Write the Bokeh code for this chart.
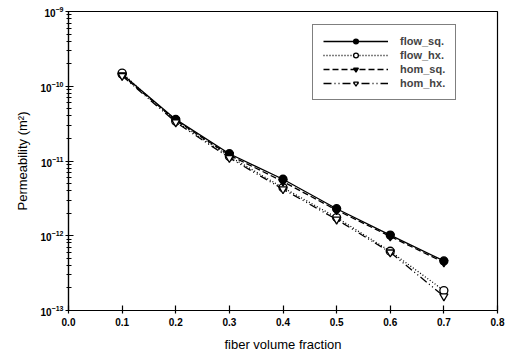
from bokeh.plotting import figure
from bokeh.models import (Range1d, FixedTicker, Legend, LegendItem, NumeralTickFormatter)
from bokeh.embed import file_html
from bokeh.resources import INLINE

fraction = [0.1, 0.2, 0.3, 0.4, 0.5, 0.6, 0.7]
flow_sq = [1.45e-10, 3.6e-11, 1.25e-11, 5.7e-12, 2.3e-12, 1.02e-12, 4.6e-13]
flow_hx = [1.5e-10, 3.4e-11, 1.15e-11, 4.4e-12, 1.75e-12, 6.2e-13, 1.85e-13]
hom_sq = [1.4e-10, 3.5e-11, 1.2e-11, 5.3e-12, 2.2e-12, 0.98e-12, 4.4e-13]
hom_hx = [1.38e-10, 3.3e-11, 1.1e-11, 4.2e-12, 1.65e-12, 6.0e-13, 1.55e-13]
x_ticks = [0.0, 0.1, 0.2, 0.3, 0.4, 0.5, 0.6, 0.7, 0.8]
y_ticks = [1e-13, 1e-12, 1e-11, 1e-10, 1e-9]

FONT = "Liberation Sans"

p = figure(width=514, height=359, y_axis_type="log", output_backend="svg",
           toolbar_location=None, x_range=Range1d(0.0, 0.8),
           y_range=Range1d(1e-13, 1e-9),
           min_border_left=68, min_border_right=17, min_border_top=11,
           min_border_bottom=49)
p.background_fill_color = None
p.border_fill_color = "white"
p.outline_line_color = "black"
p.outline_line_width = 1.2
p.xgrid.visible = False
p.ygrid.visible = False

minor = []
for d in y_ticks[:-1]:
    for k in range(2, 10):
        minor.append(d * k)

p.xaxis.ticker = FixedTicker(ticks=x_ticks)
p.xaxis.formatter = NumeralTickFormatter(format="0.0")
p.yaxis.ticker = FixedTicker(ticks=y_ticks, minor_ticks=minor)

for ax in (p.xaxis[0], p.yaxis[0]):
    ax.axis_line_color = "black"
    ax.axis_line_width = 1.2
    ax.major_tick_in = 5
    ax.major_tick_out = 3
    ax.minor_tick_in = 3
    ax.minor_tick_out = 2
    ax.major_tick_line_color = "black"
    ax.minor_tick_line_color = "black"
    ax.major_tick_line_width = 1.2
    ax.minor_tick_line_width = 1
    ax.major_label_text_font = FONT
    ax.major_label_text_font_size = "10px"
    ax.major_label_text_font_style = "bold"
    ax.major_label_text_color = "black"
    ax.axis_label_text_font = FONT
    ax.axis_label_text_font_size = "13px"
    ax.axis_label_text_font_style = "normal"
    ax.axis_label_text_color = "black"
p.xaxis.minor_tick_line_color = None
p.xaxis.axis_label = "fiber volume fraction"
p.yaxis.axis_label = "Permeability (m²)"
p.xaxis.major_label_standoff = 4
p.xaxis.axis_label_standoff = 8
p.yaxis.major_label_standoff = 2
p.yaxis.axis_label_standoff = 8

series = [
    ("flow_sq.", flow_sq, "solid", "circle", "black"),
    ("flow_hx.", flow_hx, "1 2", "circle", "white"),
    ("hom_sq.", hom_sq, "6 3", "inverted_triangle", "black"),
    ("hom_hx.", hom_hx, "8 3 1 3 1 3", "inverted_triangle", "white"),
]
items = []
for label, vals, dash, marker, fill in series:
    l = p.line(fraction, vals, line_color="black", line_width=1.3, line_dash=dash)
    s = p.scatter(fraction, vals, marker=marker, size=8, line_color="black",
                  line_width=1.3, fill_color=fill)
    items.append(LegendItem(label=label, renderers=[l, s]))

legend = Legend(items=items, location=(244, 210), orientation="vertical")
legend.border_line_color = "black"
legend.border_line_width = 1
legend.background_fill_alpha = 1
legend.glyph_width = 65
legend.glyph_height = 12
legend.spacing = 2
legend.padding = 10
legend.label_standoff = 12
legend.label_text_font = FONT
legend.label_text_font_size = "11px"
legend.label_text_font_style = "bold"
legend.label_height = 12
legend.margin = 0
p.add_layout(legend, "center")

open("out.html", "w").write(file_html(p, INLINE))
